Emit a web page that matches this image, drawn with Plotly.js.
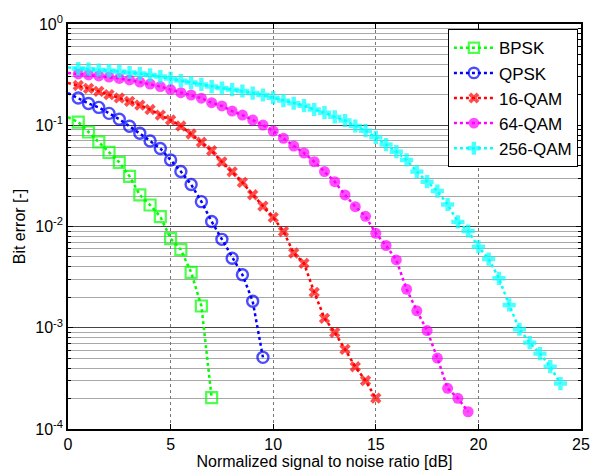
<!DOCTYPE html>
<html>
<head>
<meta charset="utf-8">
<script src="https://cdn.plot.ly/plotly-3.0.1.min.js"></script>
<style>
  html, body { margin: 0; padding: 0; background: #fff; }
  #chart { width: 594px; height: 474px; }
</style>
</head>
<body>
<div id="chart"></div>
<script>
// SNR grid [dB]
const snr = [0, 0.5, 1, 1.5, 2, 2.5, 3, 3.5, 4, 4.5, 5, 5.5, 6, 6.5, 7, 7.5, 8, 8.5, 9, 9.5,
  10, 10.5, 11, 11.5, 12, 12.5, 13, 13.5, 14, 14.5, 15, 15.5, 16, 16.5, 17, 17.5, 18, 18.5, 19, 19.5,
  20, 20.5, 21, 21.5, 22, 22.5, 23, 23.5, 24];

const seriesNames = ["BPSK", "QPSK", "16-QAM", "64-QAM", "256-QAM"];

const berBPSK = [0.12, 0.1076, 0.0858, 0.0684, 0.054, 0.043, 0.0313, 0.0205, 0.0163, 0.0125,
  0.0076, 0.0059, 0.00353, 0.00164, 0.000204];

const berQPSK = [0.208, 0.186, 0.164, 0.150, 0.131, 0.1145, 0.0977, 0.0833, 0.0699, 0.0589,
  0.0454, 0.0349, 0.0260, 0.0176, 0.0112, 0.00747, 0.00485, 0.00334, 0.00183, 0.00051];

const ber16QAM = [0.261, 0.247, 0.231, 0.216, 0.201, 0.186, 0.172, 0.158, 0.143, 0.126,
  0.1127, 0.0983, 0.0820, 0.0679, 0.0561, 0.0434, 0.0347, 0.0273, 0.0206, 0.0159,
  0.0123, 0.00893, 0.00547, 0.00433, 0.00224, 0.00124, 0.000897, 0.000612, 0.000412, 0.000300,
  0.000202];

const ber64QAM = [0.328, 0.321, 0.314, 0.307, 0.299, 0.290, 0.280, 0.267, 0.255, 0.241,
  0.225, 0.210, 0.199, 0.185, 0.167, 0.155, 0.138, 0.126, 0.1127, 0.1005,
  0.0877, 0.0743, 0.0624, 0.0532, 0.0436, 0.0349, 0.0277, 0.0205, 0.0157, 0.0126,
  0.00857, 0.00649, 0.00467, 0.00240, 0.00147, 0.000939, 0.000502, 0.000252, 0.000201, 0.000148];

const ber256QAM = [0.372, 0.363, 0.358, 0.351, 0.346, 0.340, 0.332, 0.324, 0.314, 0.303,
  0.290, 0.276, 0.264, 0.253, 0.241, 0.233, 0.225, 0.218, 0.208, 0.199,
  0.187, 0.175, 0.165, 0.156, 0.143, 0.133, 0.121, 0.1114, 0.0983, 0.0883,
  0.0760, 0.0645, 0.0548, 0.0454, 0.0348, 0.0277, 0.0224, 0.0165, 0.0111, 0.00903,
  0.00631, 0.00477, 0.00308, 0.00168, 0.000966, 0.000713, 0.000555, 0.000413, 0.000281];

const yTickVals = [1e-4, 1e-3, 1e-2, 1e-1, 1];
const yTickText = ["10<sup>-4</sup>", "10<sup>-3</sup>", "10<sup>-2</sup>", "10<sup>-1</sup>", "10<sup>0</sup>"];

// styles
const styles = [
  {color: "#00ff00", symbol: "square-open", size: 11, lw: 2.2},
  {color: "#0000ff", symbol: "circle-open", size: 11, lw: 2.4},
  {color: "#ff0000", symbol: "x", size: 10, lw: 0},
  {color: "#ff00ff", symbol: "circle", size: 11, lw: 0},
  {color: "#00ffff", symbol: "cross", size: 11, lw: 0}
];
const allBer = [berBPSK, berQPSK, ber16QAM, ber64QAM, ber256QAM];

const traces = allBer.map((ber, k) => {
  const st = styles[k];
  const x = snr.slice(0, ber.length);
  // first point (0 dB) is drawn without a marker, as in the reference
  const sizes = ber.map((v, i) => i === 0 ? 0 : st.size);
  return {
    type: "scatter",
    mode: "lines+markers",
    name: seriesNames[k],
    x: x,
    y: ber,
    line: {color: st.color, width: 2.5, dash: "dot"},
    marker: {
      symbol: st.symbol,
      size: sizes,
      color: st.color,
      line: {color: st.color, width: st.lw}
    },
    cliponaxis: false
  };
});

// minor log grid (2..9 per decade)
const minorVals = [];
for (let d = -4; d < 0; d++) {
  for (let m = 2; m <= 9; m++) minorVals.push(m * Math.pow(10, d));
}

const FONT = "'Liberation Sans', Arial, sans-serif";

const layout = {
  width: 594,
  height: 474,
  paper_bgcolor: "#ffffff",
  plot_bgcolor: "#ffffff",
  margin: {l: 68, r: 13, t: 24, b: 45},
  font: {family: FONT, color: "#000", size: 16},
  showlegend: true,
  legend: {
    x: 0.994, y: 0.987, xanchor: "right", yanchor: "top",
    bgcolor: "#ffffff", bordercolor: "#000", borderwidth: 1,
    font: {size: 17, family: FONT, color: "#000"},
    itemwidth: 40,
    tracegroupgap: 0
  },
  xaxis: {
    range: [0, 25],
    tickmode: "linear", tick0: 0, dtick: 5,
    ticks: "inside", ticklen: 5, tickcolor: "#000",
    showline: true, linecolor: "#000", linewidth: 1.8, mirror: "ticks",
    showgrid: true, gridcolor: "#777", griddash: "dot", gridwidth: 1,
    zeroline: false,
    tickfont: {size: 16},
    title: {text: "Normalized signal to noise ratio [dB]", font: {size: 16}, standoff: 4}
  },
  yaxis: {
    type: "log",
    range: [-4, 0],
    tickmode: "array", tickvals: yTickVals, ticktext: yTickText,
    ticks: "inside", ticklen: 5, tickcolor: "#000",
    showline: true, linecolor: "#000", linewidth: 1.8, mirror: "ticks",
    showgrid: true, gridcolor: "#444", gridwidth: 1,
    zeroline: false,
    tickfont: {size: 16},
    minor: {
      tickmode: "array", tickvals: minorVals,
      ticks: "inside", ticklen: 3, tickcolor: "#000",
      showgrid: true, gridcolor: "#a8a8a8", gridwidth: 1
    },
    title: {text: "Bit error [-]", font: {size: 16}, standoff: 6}
  }
};

Plotly.newPlot("chart", traces, layout, {staticPlot: true, displayModeBar: false});
</script>
</body>
</html>
